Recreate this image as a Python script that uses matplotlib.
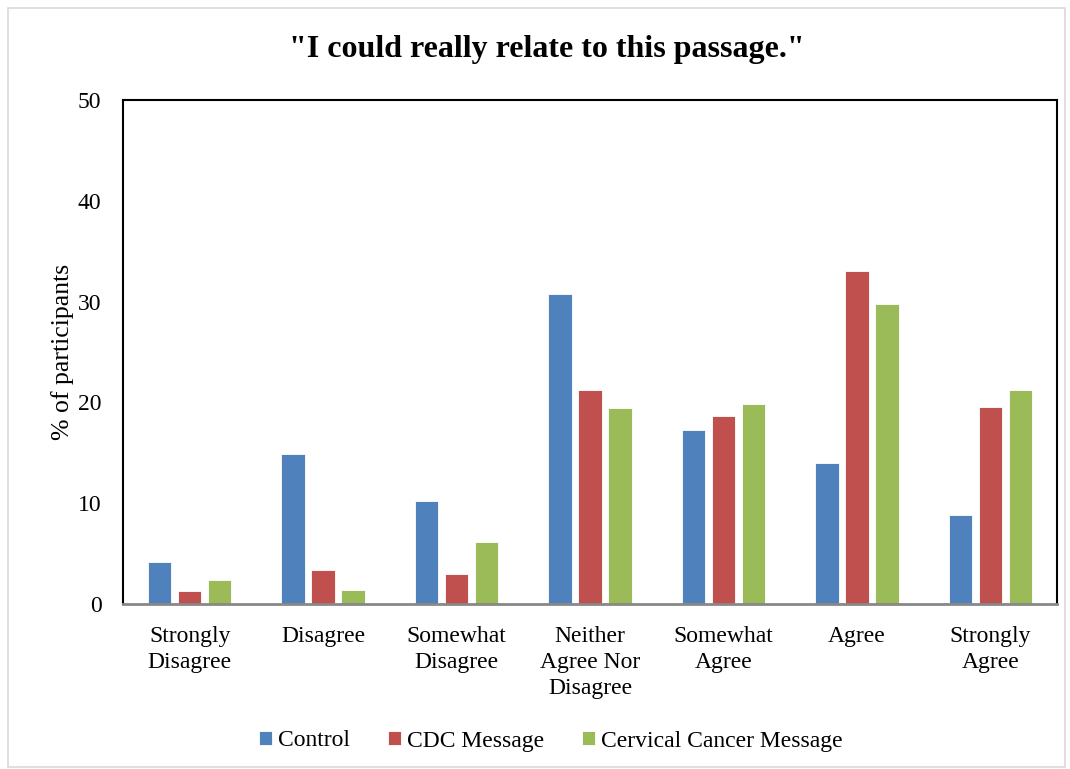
import numpy as np
import matplotlib.pyplot as plt
from matplotlib.patches import Rectangle

plt.rcParams['font.family'] = ['Liberation Serif', 'DejaVu Serif']

categories = ['Strongly\nDisagree', 'Disagree', 'Somewhat\nDisagree',
              'Neither\nAgree Nor\nDisagree', 'Somewhat\nAgree', 'Agree',
              'Strongly\nAgree']
control = [4.2, 14.9, 10.2, 30.8, 17.3, 14.0, 8.8]
cdc = [1.3, 3.4, 3.0, 21.2, 18.7, 33.0, 19.5]
cervical = [2.4, 1.4, 6.2, 19.4, 19.8, 29.8, 21.2]
series_names = ['Control', 'CDC Message', 'Cervical Cancer Message']
colors = ['#4F81BD', '#C0504D', '#9BBB59']

fig = plt.figure(figsize=(10.7, 7.69), dpi=100)
ax = fig.add_axes([123 / 1070, 1 - 604 / 769, (1057 - 123) / 1070, (604 - 100) / 769])

# светло-серая рамка вокруг всего рисунка
fig.patches.append(Rectangle((8 / 1070, 0.002), 1057 / 1070, 1 - 10 / 769,
                             transform=fig.transFigure, fill=False,
                             edgecolor='#d9d9d9', linewidth=1.2))

x = np.arange(len(categories))
w = 0.175
step = 0.225
for i, (vals, name) in enumerate(zip([control, cdc, cervical], series_names)):
    ax.bar(x + (i - 1) * step, vals, width=w, color=colors[i], label=name,
           edgecolor='white', linewidth=0.6)

ax.set_xlim(-0.5, len(categories) - 0.5)
ax.set_ylim(0, 50)
ax.set_yticks([0, 10, 20, 30, 40, 50])
ax.set_xticks(x)
ax.set_xticklabels(categories, fontsize=17, linespacing=1.3)
ax.tick_params(axis='x', length=0, pad=16)
ax.tick_params(axis='y', labelsize=17, length=0, pad=15.5)
ax.set_ylabel('% of participants', fontsize=18.5, labelpad=3)

for s in ['left', 'top', 'right']:
    ax.spines[s].set_color('black')
    ax.spines[s].set_linewidth(1.5)
ax.spines['bottom'].set_color('#888888')
ax.spines['bottom'].set_linewidth(2)

fig.text(547 / 1070, 1 - 50 / 769, '"I could really relate to this passage."',
         ha='center', va='center', fontsize=23, fontweight='bold')

fig.legend(loc='center', bbox_to_anchor=(0.515, 1 - 741 / 769), ncol=3,
           frameon=False, fontsize=17, handlelength=0.55, handleheight=0.55,
           handletextpad=0.25, columnspacing=1.62)

plt.savefig('out.png', dpi=100)
